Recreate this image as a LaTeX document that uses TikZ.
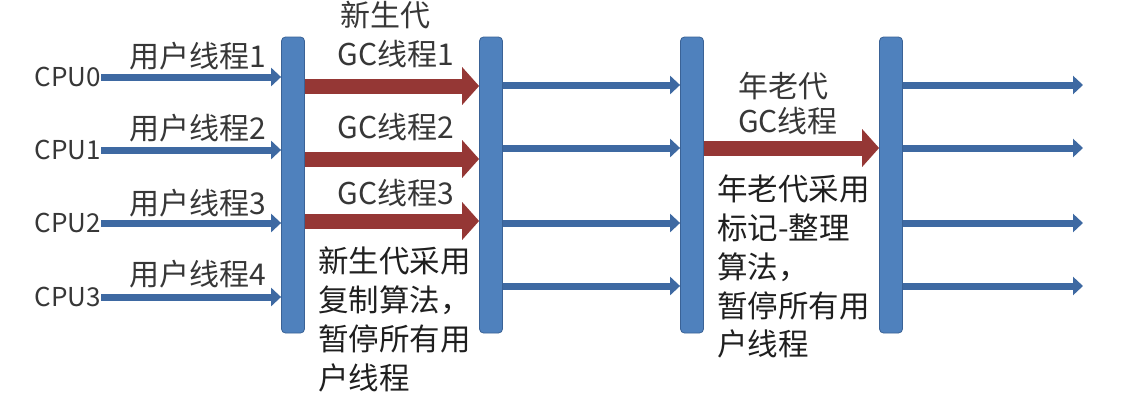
\documentclass[tikz,border=0pt]{standalone}
\usepackage{fontspec}
\setmainfont{Noto Sans CJK SC}
\usetikzlibrary{arrows.meta}
\definecolor{barblue}{RGB}{79,129,189}
\definecolor{baredge}{RGB}{58,98,150}
\definecolor{arrblue}{RGB}{62,105,162}
\definecolor{gcred}{RGB}{149,55,53}
\definecolor{txtgray}{RGB}{55,55,55}
\begin{document}
\begin{tikzpicture}[x=1pt,y=-1pt,
  bar/.style={draw=baredge, fill=barblue, line width=0.8pt, rounded corners=4pt,
    minimum width=23pt, minimum height=296pt, inner sep=0pt},
  thinarrow/.style={draw=arrblue, line width=7pt, -{Triangle[width=18pt,length=10pt]}},
  gcarrow/.style={draw=gcred, line width=15pt, -{Triangle[width=37pt,length=17pt]}},
  lbl/.style={font=\fontsize{30}{36}\selectfont, text=txtgray, inner sep=0pt},
  cpu/.style={font=\fontsize{26}{30}\selectfont, text=txtgray, inner sep=0pt, anchor=east},
  blk/.style={font=\fontsize{30.5}{38.7}\selectfont, text=black!88, inner sep=0pt,
    align=left, anchor=north west},
]
\useasboundingbox (0,0) rectangle (1131,402);
% bars
\node[bar] (b1) at (293,185) {};
\node[bar] (b2) at (491,185) {};
\node[bar] (b3) at (692,185) {};
\node[bar] (b4) at (891,185) {};
% CPU labels
\node[cpu] (c0) at (101,77) {CPU0};
\node[cpu] (c1) at (101,150) {CPU1};
\node[cpu] (c2) at (101,223) {CPU2};
\node[cpu] (c3) at (101,297) {CPU3};
% row coordinates
\coordinate (g1) at (0,86);
\coordinate (g2) at (0,159);
\coordinate (g3) at (0,221);
\coordinate (m1) at (0,85);
\coordinate (m2) at (0,148);
\coordinate (m3) at (0,223);
\coordinate (m4) at (0,286);
\coordinate (e1) at (1083,85);
\coordinate (e2) at (1083,148);
\coordinate (e3) at (1083,223);
\coordinate (e4) at (1083,286);
% user thread arrows
\draw[thinarrow] (c0.east) -- (b1.west |- c0.east);
\draw[thinarrow] (c1.east) -- (b1.west |- c1.east);
\draw[thinarrow] (c2.east) -- (b1.west |- c2.east);
\draw[thinarrow] (c3.east) -- (b1.west |- c3.east);
% young GC arrows
\draw[gcarrow] (b1.east |- g1) -- (b2.west |- g1);
\draw[gcarrow] (b1.east |- g2) -- (b2.west |- g2);
\draw[gcarrow] (b1.east |- g3) -- (b2.west |- g3);
% user threads between b2 and b3
\draw[thinarrow] (b2.east |- m1) -- (b3.west |- m1);
\draw[thinarrow] (b2.east |- m2) -- (b3.west |- m2);
\draw[thinarrow] (b2.east |- m3) -- (b3.west |- m3);
\draw[thinarrow] (b2.east |- m4) -- (b3.west |- m4);
% old GC arrow
\draw[gcarrow] (b3.east |- m2) -- (b4.west |- m2);
% final arrows
\draw[thinarrow] (b4.east |- e1) -- (e1);
\draw[thinarrow] (b4.east |- e2) -- (e2);
\draw[thinarrow] (b4.east |- e3) -- (e3);
\draw[thinarrow] (b4.east |- e4) -- (e4);
% labels
\node[lbl] (u1) at (198,56) {用户线程1};
\node[lbl] (u2) at (198,128) {用户线程2};
\node[lbl] (u3) at (198,203) {用户线程3};
\node[lbl] (u4) at (198,274) {用户线程4};
\node[lbl] (yg) at (385,15) {新生代};
\node[lbl] (gc1) at (396,54) {GC线程1};
\node[lbl] (gc2) at (396,127) {GC线程2};
\node[lbl] (gc3) at (396,193) {GC线程3};
\node[lbl] (og) at (783,86) {年老代};
\node[lbl] (ogc) at (788,121) {GC线程};
\node[blk] (yd) at (318,247) {新生代采用\\复制算法，\\暂停所有用\\户线程};
\node[blk] (od) at (717,175) {年老代采用\\标记-整理\\算法，\\暂停所有用\\户线程};
\end{tikzpicture}
\end{document}
